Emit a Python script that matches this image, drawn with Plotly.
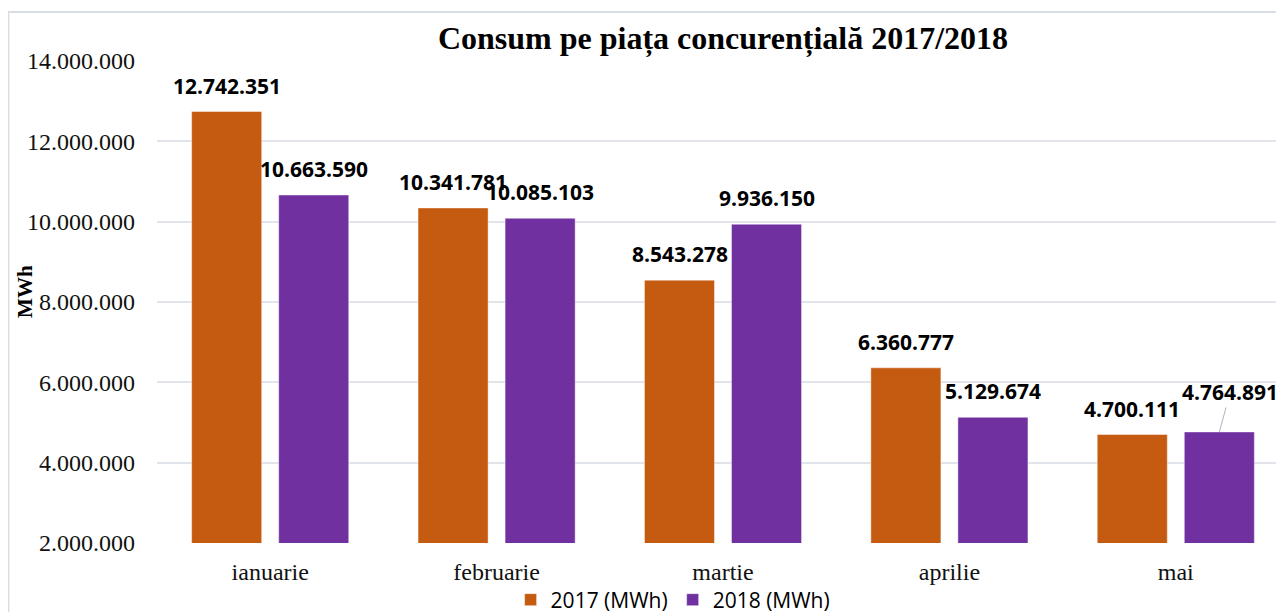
import plotly.graph_objects as go

months = ["ianuarie", "februarie", "martie", "aprilie", "mai"]
values_2017 = [12742351, 10341781, 8543278, 6360777, 4700111]
values_2018 = [10663590, 10085103, 9936150, 5129674, 4764891]
series_names = ["2017 (MWh)", "2018 (MWh)"]
y_ticks = [2000000, 4000000, 6000000, 8000000, 10000000, 12000000, 14000000]

ORANGE = "#C55A11"
PURPLE = "#7030A0"
GRID = "#E1E5EB"


def fmt(v):
    return f"{v:,}".replace(",", ".")


fig = go.Figure()
fig.add_trace(go.Bar(x=months, y=values_2017, name=series_names[0],
                     marker=dict(color=ORANGE, line=dict(color="rgba(255,255,255,0.45)", width=1))))
fig.add_trace(go.Bar(x=months, y=values_2018, name=series_names[1],
                     marker=dict(color=PURPLE, line=dict(color="rgba(255,255,255,0.45)", width=1))))

label_font = dict(family="Open Sans", size=21, color="#000000")
annotations = []
for i, m in enumerate(months):
    annotations.append(dict(x=m, y=values_2017[i], text="<b>" + fmt(values_2017[i]) + "</b>",
                            showarrow=False, xshift=-43.5, yshift=26, yanchor="middle",
                            font=label_font))
    if i == len(months) - 1:
        annotations.append(dict(x=m, y=values_2018[i], text="<b>" + fmt(values_2018[i]) + "</b>",
                                showarrow=True, arrowhead=0, arrowwidth=1, arrowcolor="#A9B4C2",
                                ax=11, ay=-40, xshift=43.5, font=label_font, standoff=0))
    else:
        annotations.append(dict(x=m, y=values_2018[i], text="<b>" + fmt(values_2018[i]) + "</b>",
                                showarrow=False, xshift=43.5, yshift=26, yanchor="middle",
                                font=label_font))

annotations.append(dict(text="<b>MWh</b>", xref="paper", yref="paper", x=-0.1166, y=0.521,
                        textangle=-90, showarrow=False, xanchor="center", yanchor="middle",
                        font=dict(family="Liberation Serif", size=21, color="#000000")))

fig.update_layout(
    width=1284, height=612,
    margin=dict(l=149, r=3, t=53, b=77, autoexpand=False),
    paper_bgcolor="white", plot_bgcolor="white",
    separators=",.",
    barmode="group", bargap=0.231, bargroupgap=0.195,
    title=dict(text="<b>Consum pe piața concurențială 2017/2018</b>",
               font=dict(family="Liberation Serif", size=32, color="#000000"),
               x=0.5, xref="paper", xanchor="center", yref="container", y=0.951, yanchor="middle"),
    xaxis=dict(range=[-0.5, 4.5], showgrid=False, showline=False, zeroline=False,
               tickfont=dict(family="Liberation Serif", size=24, color="#111111"),
               ticks="", ticklabelstandoff=12, automargin=False),
    yaxis=dict(range=[2000000, 14000000], tickvals=y_ticks, tickformat=",d",
               showgrid=True, gridcolor=GRID, gridwidth=2, zeroline=False, showline=False,
               tickfont=dict(family="Liberation Serif", size=24, color="#111111"),
               ticklabelstandoff=21, automargin=False),
    legend=dict(orientation="h", xref="container", yref="container", x=0.518, xanchor="center",
                y=0.0327, yanchor="middle", bgcolor="rgba(0,0,0,0)",
                font=dict(family="Open Sans", size=21, color="#000000"),
                itemwidth=30, traceorder="normal"),
    annotations=annotations,
    shapes=[dict(type="rect", xref="paper", yref="paper", x0=-0.1312, x1=1.05, y0=-0.3, y1=1.1017,
                 line=dict(color="#D9DEE5", width=2), fillcolor="rgba(0,0,0,0)", layer="below")],
)

fig.write_html("out.html")
